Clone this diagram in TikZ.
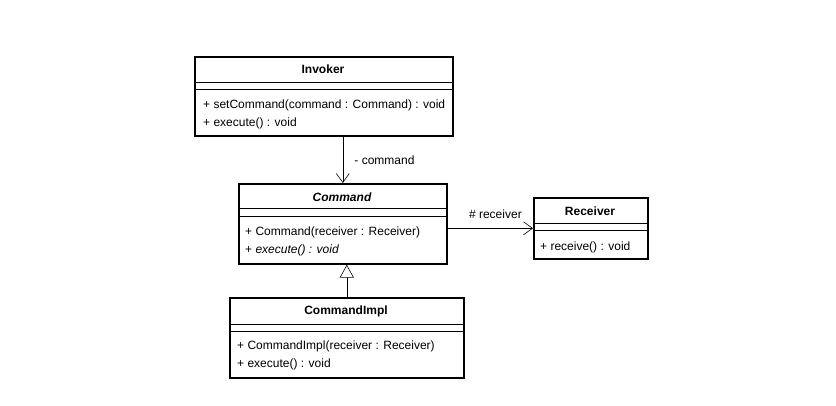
\documentclass[tikz,border=0pt]{standalone}
\usepackage{fontspec}
\setmainfont{Liberation Sans}
\usetikzlibrary{arrows.meta,positioning}

\begin{document}
\begin{tikzpicture}[x=1pt, y=-1pt,
  classbox/.style={draw, line width=1.6pt, anchor=north west, inner sep=0pt},
  sepline/.style={line width=0.9pt},
  classname/.style={font=\fontsize{12}{14}\selectfont\bfseries, inner sep=0pt},
  members/.style={font=\fontsize{12}{18}\selectfont, align=left, anchor=north west, inner sep=0pt},
  assoc/.style={line width=0.6pt, -{Straight Barb[length=9pt, width=13pt, line width=0.6pt]}},
  inherit/.style={line width=0.6pt, -{Triangle[open, length=13pt, width=14pt, line width=0.6pt, fill=white]}}]
\useasboundingbox (0,0) rectangle (836,405);

% --- Invoker ---
\node[classbox, minimum width=258pt, minimum height=79pt] (invoker) at (194,56) {};
\node[classname] (invoker-name) at (323,69) {Invoker};
\draw[sepline] (194,82) -- (452,82);
\draw[sepline] (194,89) -- (452,89);
\node[members] (invoker-ops) at (203,100)
  {+ setCommand(command : Command) : void\\+ execute() : void};

% --- Command (abstract) ---
\node[classbox, minimum width=208pt, minimum height=80pt] (command) at (238,183) {};
\node[classname, font=\fontsize{12}{14}\selectfont\bfseries\itshape] (command-name) at (342,197) {Command};
\draw[sepline] (238,208) -- (446,208);
\draw[sepline] (238,216) -- (446,216);
\node[members] (command-ops) at (245,227)
  {+ Command(receiver : Receiver)\\+ \textit{execute() : void}};

% --- Receiver ---
\node[classbox, minimum width=114pt, minimum height=61pt] (receiver) at (533,197) {};
\node[classname] (receiver-name) at (590,211) {Receiver};
\draw[sepline] (533,223) -- (647,223);
\draw[sepline] (533,230) -- (647,230);
\node[members] (receiver-ops) at (540,242) {+ receive() : void};

% --- CommandImpl ---
\node[classbox, minimum width=234pt, minimum height=80pt] (impl) at (229,297) {};
\node[classname] (impl-name) at (346,311) {CommandImpl};
\draw[sepline] (229,324) -- (463,324);
\draw[sepline] (229,331) -- (463,331);
\node[members] (impl-ops) at (237,341)
  {+ CommandImpl(receiver : Receiver)\\+ execute() : void};

% --- Relations ---
\draw[assoc] (invoker.south -| command.north) -- (command.north)
  node[midway, right=8pt, font=\fontsize{12}{14}\selectfont] (cmd-role) {- command};
\draw[assoc] (command.east |- receiver.west) -- (receiver.west)
  node[pos=0.56, above=6pt, font=\fontsize{12}{14}\selectfont] (rcv-role) {\# receiver};
\draw[inherit] (impl.north) -- (impl.north |- command.south);

\end{tikzpicture}
\end{document}
